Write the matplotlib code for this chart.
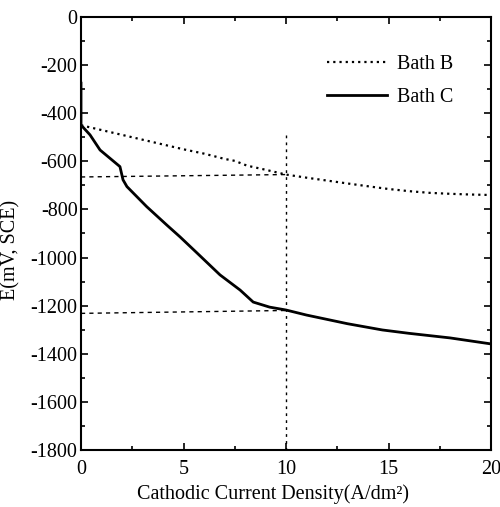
import matplotlib
matplotlib.use("Agg")
import matplotlib.pyplot as plt
from matplotlib.ticker import MultipleLocator, FuncFormatter

# Polarization curves (cathodic current density in A/dm^2, potential in mV vs SCE)
bath_b_x = [0, 1, 2, 3, 4, 5, 6, 6.6, 7, 7.5, 8.1, 9, 10, 11, 12, 13, 14.2, 15, 16, 17, 18, 19, 20]
bath_b_y = [-450, -470, -490, -510, -530, -550, -568, -581, -590, -598, -618, -635, -655,
            -668, -680, -692, -706, -715, -724, -731, -735, -738, -740]

bath_c_x = [0, 0, 0.44, 0.93, 1.9, 2.05, 2.24, 3.2, 4.2, 4.83, 5.66, 6.78, 7.76, 8.4, 9.2, 10,
            11.0, 13, 14.7, 16, 18, 20]
bath_c_y = [-275, -449, -490, -553, -622, -677, -705, -788, -866, -914, -981, -1072, -1135,
            -1185, -1206, -1218, -1239, -1275, -1301, -1315, -1334, -1359]

# Guide lines read at 10 A/dm^2
guide_x = 10
guide_b = [-665, -655]
guide_c = [-1232, -1220]
guide_top = -490

plt.rcParams['font.family'] = ['Liberation Serif', 'DejaVu Serif']

fig = plt.figure(figsize=(5.0, 5.07), dpi=100)
ax = fig.add_axes([0.162, 0.1124, 0.82, 0.8541])

ax.plot(bath_b_x, bath_b_y, color='black', linestyle=(0, (1, 1.8)), linewidth=1.6, label='Bath B')
ax.plot(bath_c_x, bath_c_y, color='black', linestyle='-', linewidth=2.0, label='Bath C')

ax.plot([0, guide_x], guide_b, color='black', linestyle=(0, (3, 3)), linewidth=1.0)
ax.plot([0, guide_x], guide_c, color='black', linestyle=(0, (3, 3)), linewidth=1.0)
ax.plot([guide_x, guide_x], [guide_top, -1800], color='black', linestyle=(0, (2, 3)), linewidth=1.0)

ax.set_xlim(0, 20)
ax.set_ylim(-1800, 0)
ax.xaxis.set_major_locator(MultipleLocator(5))
ax.xaxis.set_minor_locator(MultipleLocator(2.5))
ax.yaxis.set_major_locator(MultipleLocator(200))
ax.yaxis.set_minor_locator(MultipleLocator(100))
ax.yaxis.set_major_formatter(FuncFormatter(lambda v, p: f"{int(round(v))}".replace('\u2212', '-')))

ax.tick_params(which='both', direction='in', top=True, right=True, labelsize=14.5, width=1.2)
ax.tick_params(which='major', length=5)
ax.tick_params(which='minor', length=3)
ax.tick_params(axis='x', pad=7)
ax.tick_params(axis='y', pad=2.5)
for s in ax.spines.values():
    s.set_linewidth(1.5)

ax.set_xlabel('Cathodic Current Density(A/dm\u00b2)', fontsize=14.5)
ax.set_ylabel('E(mV, SCE)', fontsize=14.5)
ax.xaxis.set_label_coords(0.468, -0.078)
ax.yaxis.set_label_coords(-0.148, 0.462)

ax.legend(loc='upper left', bbox_to_anchor=(0.58, 0.93), frameon=False, fontsize=14.5,
          handlelength=3.0, handletextpad=0.5, labelspacing=0.65, borderaxespad=0)

fig.savefig('out.png', dpi=100)
